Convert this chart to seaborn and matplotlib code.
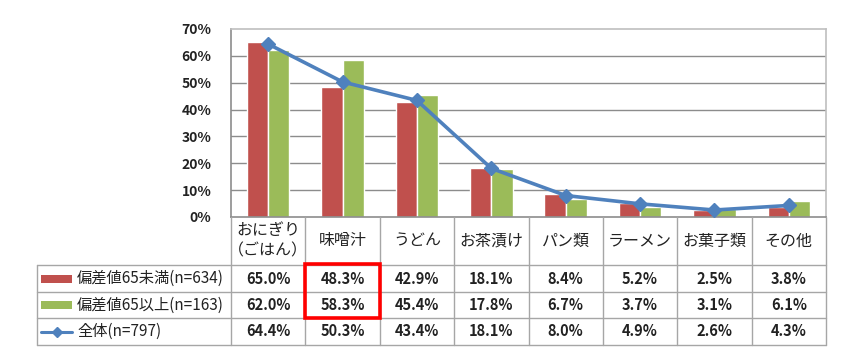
import numpy as np
import pandas as pd
import seaborn as sns
import matplotlib.pyplot as plt
from matplotlib.patches import Rectangle

sns.set_style('white')
plt.rcParams['font.family'] = ['Noto Sans CJK JP', 'DejaVu Sans']

# data
categories = ['おにぎり\n（ごはん）', '味噌汁', 'うどん', 'お茶漬け', 'パン類', 'ラーメン', 'お菓子類', 'その他']
series_names = ['偏差値65未満(n=634)', '偏差値65以上(n=163)', '全体(n=797)']
under65 = [65.0, 48.3, 42.9, 18.1, 8.4, 5.2, 2.5, 3.8]
over65 = [62.0, 58.3, 45.4, 17.8, 6.7, 3.7, 3.1, 6.1]
overall = [64.4, 50.3, 43.4, 18.1, 8.0, 4.9, 2.6, 4.3]
yticks = [0, 10, 20, 30, 40, 50, 60, 70]

red, green, blue = '#C0504D', '#9BBB59', '#4F81BD'
grid_c = '#8C8C8C'
line_c = '#A6A6A6'

W, H = 857, 359
fig = plt.figure(figsize=(W / 100, H / 100), dpi=100)

def px_axes(x0, y0, x1, y1):
    return fig.add_axes([x0 / W, 1 - y1 / H, (x1 - x0) / W, (y1 - y0) / H])

# chart
ax = px_axes(231, 29, 826, 217)
df = pd.DataFrame({
    'cat': list(range(len(categories))) * 2,
    'val': under65 + over65,
    'grp': [series_names[0]] * len(under65) + [series_names[1]] * len(over65),
})
sns.barplot(data=df, x='cat', y='val', hue='grp', palette=[red, green],
            width=0.57, gap=0, saturation=1, legend=False, ax=ax, zorder=2)
ax.plot(np.arange(len(overall)), overall, color=blue, lw=2.6, marker='D',
        ms=7, zorder=3)
ax.set_xlim(-0.5, len(categories) - 0.5)
ax.set_ylim(0, 70)
ax.set_yticks(yticks)
ax.set_yticklabels([f'{t}%' for t in yticks], fontsize=10, fontweight='semibold',
                   color='#222222')
ax.set_xticks([])
ax.set_xlabel('')
ax.set_ylabel('')
ax.tick_params(axis='y', length=0, pad=14)
for t in yticks[1:-1]:
    ax.axhline(t, color=grid_c, lw=1, zorder=1)
for s in ax.spines.values():
    s.set_color('#BFBFBF')
    s.set_linewidth(1.2)
ax.spines['left'].set_color(grid_c)
ax.spines['bottom'].set_color(grid_c)

# data table
ncat = len(categories)
lw_col = (231 - 37) / ((826 - 231) / ncat)
tx = px_axes(37, 217, 826, 345)
tx.set_xlim(-0.5 - lw_col, ncat - 0.5)
tx.set_ylim(345, 217)
tx.axis('off')
rows = [265, 292, 318, 345]
for y in rows:
    tx.plot([-0.5 - lw_col, ncat - 0.5], [y, y], color=line_c, lw=1, clip_on=False)
for i in range(ncat + 1):
    tx.plot([i - 0.5, i - 0.5], [217, 345], color=line_c, lw=1, clip_on=False)
tx.plot([-0.5 - lw_col] * 2, [265, 345], color=line_c, lw=1, clip_on=False)

for i, c in enumerate(categories):
    tx.text(i, 241, c, ha='center', va='center', fontsize=11.5, linespacing=1.3,
            color='#222222')

cw = (826 - 231) / ncat
x0 = -0.5 - lw_col
for r, (vals, name) in enumerate(zip([under65, over65, overall], series_names)):
    yc = (rows[r] + rows[r + 1]) / 2
    for i, v in enumerate(vals):
        tx.text(i, yc, f'{v:.1f}%', ha='center', va='center', fontsize=10.5,
                fontweight='semibold', color='#222222')
    sx0, sx1 = x0 + 4 / cw, x0 + 35 / cw
    if r < 2:
        tx.add_patch(Rectangle((sx0, yc - 4), sx1 - sx0, 8,
                               color=[red, green][r], lw=0))
    else:
        tx.plot([sx0, sx1], [yc, yc], color=blue, lw=2.2)
        tx.plot([(sx0 + sx1) / 2], [yc], color=blue, marker='D', ms=5)
    tx.text(x0 + 40 / cw, yc, name, ha='left', va='center', fontsize=11,
            color='#222222')

# highlight box around 味噌汁
tx.add_patch(Rectangle((0.5, 264), 1, 54, fill=False, edgecolor='#FF0000',
                       lw=2.6, zorder=5, clip_on=False))

fig.savefig('out.png', dpi=100)
